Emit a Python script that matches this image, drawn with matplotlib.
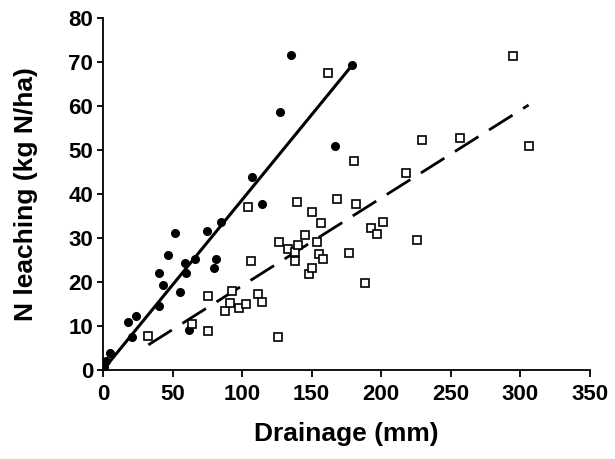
import numpy as np
import matplotlib
matplotlib.use('Agg')
import matplotlib.pyplot as plt

plt.rcParams['font.family'] = ['Liberation Sans', 'DejaVu Sans']

# filled circles (series 1)
x_circ = [0.5, 2.5, 5, 18, 20.5, 24, 40, 40, 43, 46.5, 52, 55.5, 59, 60, 62,
          66, 75, 80, 81.5, 85, 107, 114, 127.5, 135, 167, 179]
y_circ = [0.6, 2.0, 3.9, 11, 7.6, 12.2, 14.6, 22, 19.2, 26.1, 31.1, 17.7, 24.2, 22, 9.0,
          25.2, 31.5, 23.1, 25.2, 33.6, 43.9, 37.7, 58.6, 71.5, 50.8, 69.2]

# open squares (series 2)
x_sq = [32.5, 64, 75.7, 75.7, 88, 91, 92.5, 97.8, 102.8, 104.5, 106.4, 111.6,
        114.6, 126, 126.5, 132.8, 138, 137.7, 139.2, 140, 145.2, 148, 150, 150,
        153.6, 155.4, 157, 158.4, 161.5, 168.6, 176.8, 180.5, 181.9, 188.7, 192.8,
        196.7, 201.5, 218, 226, 229.7, 256.8, 294.6, 306]
y_sq = [7.8, 10.5, 16.8, 8.9, 13.3, 15.2, 18.0, 14.0, 14.9, 37.0, 24.7, 17.3,
        15.5, 7.5, 29.1, 27.4, 26.9, 24.7, 38.1, 28.4, 30.7, 21.8, 23.2, 35.8,
        29.1, 26.3, 33.3, 25.2, 67.4, 38.9, 26.5, 47.4, 37.7, 19.7, 32.3,
        30.8, 33.7, 44.7, 29.5, 52.3, 52.6, 71.4, 50.8]

# regression lines (endpoints)
fit1_x = [0, 179]
fit1_y = [0, 69.2]
fit2_x = [32.6, 306]
fit2_y = [5.7, 60.2]

fig = plt.figure(figsize=(6.15, 4.59), dpi=100)
ax = fig.add_axes([0.1675, 0.194, 0.7915, 0.767])

ax.plot(fit1_x, fit1_y, '-', color='black', lw=2.2, zorder=2)
ax.plot(fit2_x, fit2_y, color='black', lw=2.0, linestyle=(0, (10, 4.5)),
        dash_capstyle='butt', zorder=2)
ax.plot(x_circ, y_circ, 'o', color='black', ms=5.5, zorder=3)
ax.plot(x_sq, y_sq, 's', mfc='white', mec='black', ms=6, mew=1.2, zorder=3)

ax.set_xlim(0, 350)
ax.set_ylim(0, 80)
ax.set_xticks(np.arange(0, 351, 50))
ax.set_yticks(np.arange(0, 81, 10))

for s in ['top', 'right']:
    ax.spines[s].set_visible(False)
for s in ['left', 'bottom']:
    ax.spines[s].set_linewidth(1.3)
ax.tick_params(axis='x', direction='out', length=5, width=1.3, labelsize=16, pad=5)
ax.tick_params(axis='y', direction='out', length=4, width=1.3, labelsize=16, pad=3)
for lab in ax.get_xticklabels() + ax.get_yticklabels():
    lab.set_fontweight('bold')

ax.set_xlabel('Drainage (mm)', fontsize=19, fontweight='bold', labelpad=12)
ax.set_ylabel('N leaching (kg N/ha)', fontsize=19, fontweight='bold', labelpad=22)

fig.savefig('out.png', dpi=100)
